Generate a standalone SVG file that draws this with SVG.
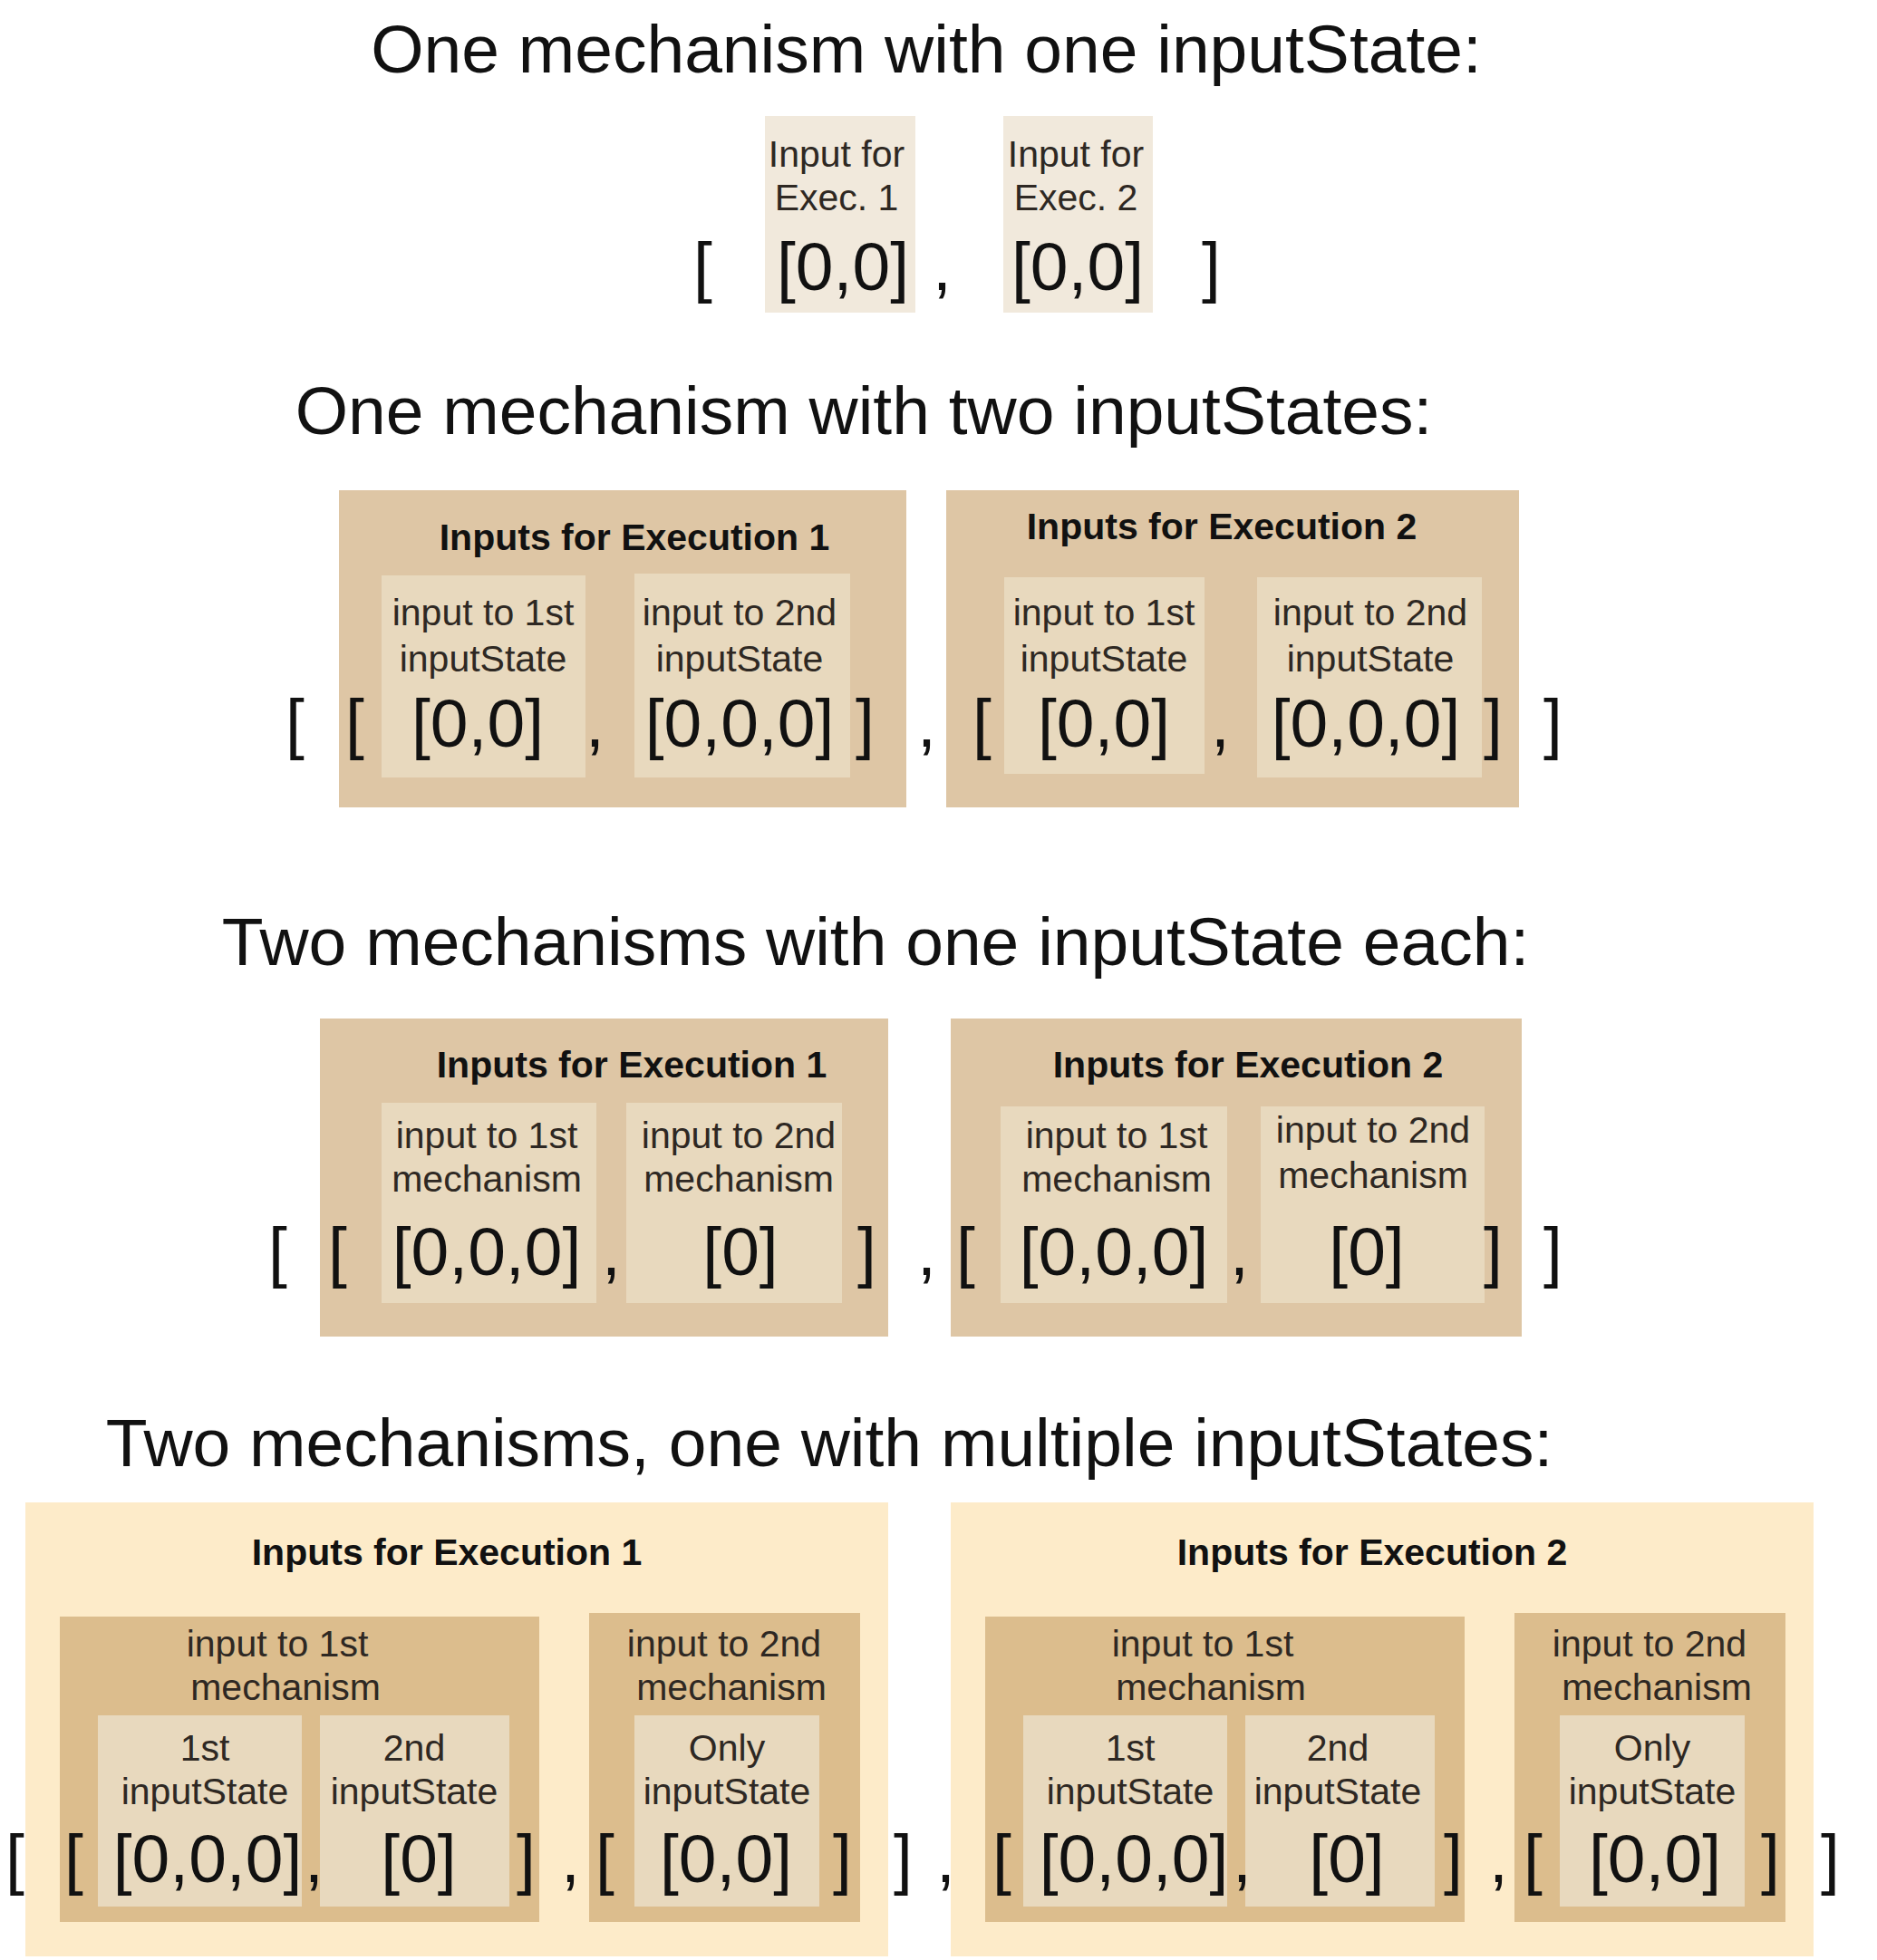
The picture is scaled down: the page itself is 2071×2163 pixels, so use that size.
<svg xmlns="http://www.w3.org/2000/svg" width="2071" height="2163" viewBox="0 0 2071 2163">
<style>
text{font-family:"Liberation Sans",Arial,Helvetica,sans-serif;fill:#111}
.title{font-size:75px;text-anchor:middle}
.hdr{font-size:41px;font-weight:bold;text-anchor:middle}
.lbl{font-size:41px;text-anchor:middle;fill:#2e2823}
.val{font-size:75px;text-anchor:middle}
.br{font-size:75px}
.pale{fill:#F1E9DC}
.tan{fill:#DEC6A5}
.light{fill:#E8D9BE}
.yel{fill:#FDEBC9}
.mid{fill:#DCBD8D}
</style>

<!-- Section 1 -->
<text class="title" x="1022" y="80">One mechanism with one inputState:</text>
<g id="s1-exec1">
<rect class="pale" x="844" y="128" width="166" height="217"/>
<text class="lbl" x="923" y="184">Input for</text>
<text class="lbl" x="923" y="232">Exec. 1</text>
<text class="val" x="930" y="320">[0,0]</text>
</g>
<g id="s1-exec2">
<rect class="pale" x="1107" y="128" width="165" height="217"/>
<text class="lbl" x="1187" y="184">Input for</text>
<text class="lbl" x="1187" y="232">Exec. 2</text>
<text class="val" x="1189" y="320">[0,0]</text>
</g>
<g id="s1-brackets">
<text class="br" x="765" y="320">[</text>
<text class="br" x="1029" y="320">,</text>
<text class="br" x="1326" y="320">]</text>
</g>

<!-- Section 2 -->
<text class="title" x="953" y="479">One mechanism with two inputStates:</text>
<g id="s2-exec1">
<rect class="tan" x="374" y="541" width="626" height="350"/>
<text class="hdr" x="700" y="607">Inputs for Execution 1</text>
<g id="s2-exec1-is1">
<rect class="light" x="421" y="635" width="225" height="223"/>
<text class="lbl" x="533" y="690">input to 1st</text>
<text class="lbl" x="533" y="741">inputState</text>
<text class="val" x="527" y="824">[0,0]</text>
</g>
<g id="s2-exec1-is2">
<rect class="light" x="700" y="633" width="238" height="225"/>
<text class="lbl" x="816" y="690">input to 2nd</text>
<text class="lbl" x="816" y="741">inputState</text>
<text class="val" x="816" y="824">[0,0,0]</text>
</g>
</g>
<g id="s2-exec2">
<rect class="tan" x="1044" y="541" width="632" height="350"/>
<text class="hdr" x="1348" y="595">Inputs for Execution 2</text>
<g id="s2-exec2-is1">
<rect class="light" x="1108" y="637" width="221" height="217"/>
<text class="lbl" x="1218" y="690">input to 1st</text>
<text class="lbl" x="1218" y="741">inputState</text>
<text class="val" x="1218" y="824">[0,0]</text>
</g>
<g id="s2-exec2-is2">
<rect class="light" x="1387" y="637" width="248" height="221"/>
<text class="lbl" x="1512" y="690">input to 2nd</text>
<text class="lbl" x="1512" y="741">inputState</text>
<text class="val" x="1507" y="824">[0,0,0]</text>
</g>
</g>
<g id="s2-brackets">
<text class="br" x="315" y="824">[</text>
<text class="br" x="381" y="824">[</text>
<text class="br" x="646" y="824">,</text>
<text class="br" x="944" y="824">]</text>
<text class="br" x="1012" y="824">,</text>
<text class="br" x="1073" y="824">[</text>
<text class="br" x="1336" y="824">,</text>
<text class="br" x="1637" y="824">]</text>
<text class="br" x="1703" y="824">]</text>
</g>

<!-- Section 3 -->
<text class="title" x="966" y="1065">Two mechanisms with one inputState each:</text>
<g id="s3-exec1">
<rect class="tan" x="353" y="1124" width="627" height="351"/>
<text class="hdr" x="697" y="1189">Inputs for Execution 1</text>
<g id="s3-exec1-m1">
<rect class="light" x="421" y="1217" width="237" height="221"/>
<text class="lbl" x="537" y="1267">input to 1st</text>
<text class="lbl" x="537" y="1315">mechanism</text>
<text class="val" x="537" y="1407">[0,0,0]</text>
</g>
<g id="s3-exec1-m2">
<rect class="light" x="691" y="1217" width="238" height="221"/>
<text class="lbl" x="815" y="1267">input to 2nd</text>
<text class="lbl" x="815" y="1315">mechanism</text>
<text class="val" x="817" y="1407">[0]</text>
</g>
</g>
<g id="s3-exec2">
<rect class="tan" x="1049" y="1124" width="630" height="351"/>
<text class="hdr" x="1377" y="1189">Inputs for Execution 2</text>
<g id="s3-exec2-m1">
<rect class="light" x="1104" y="1221" width="250" height="217"/>
<text class="lbl" x="1232" y="1267">input to 1st</text>
<text class="lbl" x="1232" y="1315">mechanism</text>
<text class="val" x="1229" y="1407">[0,0,0]</text>
</g>
<g id="s3-exec2-m2">
<rect class="light" x="1391" y="1221" width="247" height="217"/>
<text class="lbl" x="1515" y="1261">input to 2nd</text>
<text class="lbl" x="1515" y="1311">mechanism</text>
<text class="val" x="1508" y="1407">[0]</text>
</g>
</g>
<g id="s3-brackets">
<text class="br" x="296" y="1407">[</text>
<text class="br" x="362" y="1407">[</text>
<text class="br" x="664" y="1407">,</text>
<text class="br" x="946" y="1407">]</text>
<text class="br" x="1012" y="1407">,</text>
<text class="br" x="1055" y="1407">[</text>
<text class="br" x="1357" y="1407">,</text>
<text class="br" x="1637" y="1407">]</text>
<text class="br" x="1703" y="1407">]</text>
</g>

<!-- Section 4 -->
<text class="title" x="915" y="1618">Two mechanisms, one with multiple inputStates:</text>
<g id="s4-exec1">
<rect class="yel" x="28" y="1658" width="952" height="501"/>
<text class="hdr" x="493" y="1727">Inputs for Execution 1</text>
<g id="s4-exec1-m1">
<rect class="mid" x="66" y="1784" width="529" height="337"/>
<text class="lbl" x="306" y="1828">input to 1st</text>
<text class="lbl" x="315" y="1876">mechanism</text>
<g id="s4-exec1-m1-is1">
<rect class="light" x="108" y="1893" width="225" height="211"/>
<text class="lbl" x="226" y="1943">1st</text>
<text class="lbl" x="226" y="1991">inputState</text>
<text class="val" x="229" y="2077">[0,0,0]</text>
</g>
<g id="s4-exec1-m1-is2">
<rect class="light" x="353" y="1893" width="209" height="211"/>
<text class="lbl" x="457" y="1943">2nd</text>
<text class="lbl" x="457" y="1991">inputState</text>
<text class="val" x="462" y="2077">[0]</text>
</g>
</g>
<g id="s4-exec1-m2">
<rect class="mid" x="650" y="1780" width="299" height="341"/>
<text class="lbl" x="799" y="1828">input to 2nd</text>
<text class="lbl" x="807" y="1876">mechanism</text>
<g id="s4-exec1-m2-is1">
<rect class="light" x="700" y="1893" width="204" height="211"/>
<text class="lbl" x="802" y="1943">Only</text>
<text class="lbl" x="802" y="1991">inputState</text>
<text class="val" x="801" y="2077">[0,0]</text>
</g>
</g>
</g>
<g id="s4-exec2">
<rect class="yel" x="1049" y="1658" width="952" height="501"/>
<text class="hdr" x="1514" y="1727">Inputs for Execution 2</text>
<g id="s4-exec2-m1">
<rect class="mid" x="1087" y="1784" width="529" height="337"/>
<text class="lbl" x="1327" y="1828">input to 1st</text>
<text class="lbl" x="1336" y="1876">mechanism</text>
<g id="s4-exec2-m1-is1">
<rect class="light" x="1129" y="1893" width="225" height="211"/>
<text class="lbl" x="1247" y="1943">1st</text>
<text class="lbl" x="1247" y="1991">inputState</text>
<text class="val" x="1251" y="2077">[0,0,0]</text>
</g>
<g id="s4-exec2-m1-is2">
<rect class="light" x="1374" y="1893" width="209" height="211"/>
<text class="lbl" x="1476" y="1943">2nd</text>
<text class="lbl" x="1476" y="1991">inputState</text>
<text class="val" x="1486" y="2077">[0]</text>
</g>
</g>
<g id="s4-exec2-m2">
<rect class="mid" x="1671" y="1780" width="299" height="341"/>
<text class="lbl" x="1820" y="1828">input to 2nd</text>
<text class="lbl" x="1828" y="1876">mechanism</text>
<g id="s4-exec2-m2-is1">
<rect class="light" x="1721" y="1893" width="204" height="211"/>
<text class="lbl" x="1823" y="1943">Only</text>
<text class="lbl" x="1823" y="1991">inputState</text>
<text class="val" x="1826" y="2077">[0,0]</text>
</g>
</g>
</g>
<g id="s4-brackets">
<text class="br" x="6" y="2077">[</text>
<text class="br" x="71" y="2077">[</text>
<text class="br" x="336" y="2077">,</text>
<text class="br" x="570" y="2077">]</text>
<text class="br" x="619" y="2077">,</text>
<text class="br" x="657" y="2077">[</text>
<text class="br" x="919" y="2077">]</text>
<text class="br" x="986" y="2077">]</text>
<text class="br" x="1033" y="2077">,</text>
<text class="br" x="1095" y="2077">[</text>
<text class="br" x="1360" y="2077">,</text>
<text class="br" x="1593" y="2077">]</text>
<text class="br" x="1643" y="2077">,</text>
<text class="br" x="1681" y="2077">[</text>
<text class="br" x="1943" y="2077">]</text>
<text class="br" x="2009" y="2077">]</text>
</g>
</svg>
